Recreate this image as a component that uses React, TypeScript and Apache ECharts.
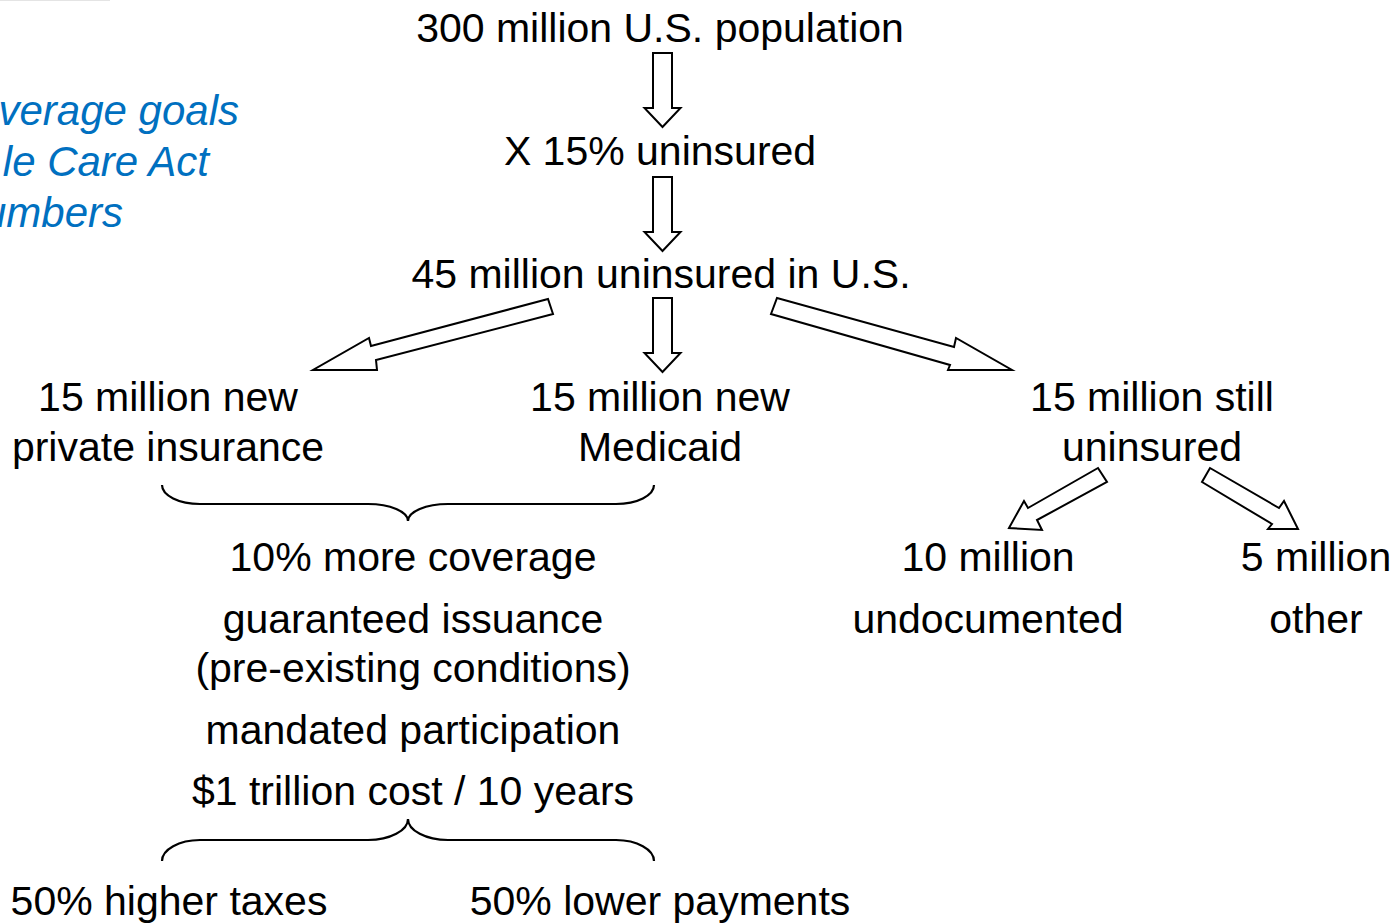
import React, { useEffect, useRef } from "react";
import * as echarts from "echarts";

// ---- content ----
const titleFragments = ["verage goals", "le Care Act", "umbers"];
const mainLabels = ["300 million U.S. population", "X 15% uninsured", "45 million uninsured in U.S."];
const branchLabels = [
  ["15 million new", "private insurance"],
  ["15 million new", "Medicaid"],
  ["15 million still", "uninsured"],
];
const coverageLines = [
  "10% more coverage",
  "guaranteed issuance",
  "(pre-existing conditions)",
  "mandated participation",
  "$1 trillion cost / 10 years",
];
const costSplit = ["50% higher taxes", "50% lower payments"];
const uninsuredSplit = [
  ["10 million", "undocumented"],
  ["5 million", "other"],
];

// ---- layout ----
const FONT = '"Liberation Sans", Arial, sans-serif';
const FS = 41;
const TITLE_FS = 42;
const titleRight = [239, 209, 123];
const titleY = [110, 161, 212];
const mainX = [660, 660, 661];
const mainY = [28, 151, 274];
const branchX = [168, 660, 1152];
const branchY = [397, 447];
const coverageX = 413;
const coverageY = [557, 619, 668, 730, 791];
const costX = [169, 660];
const costY = 901;
const uninsX = [988, 1316];
const uninsY = [557, 619];

function txt(t: string, x: number, y: number, opts: any = {}) {
  return {
    type: "text",
    x,
    y,
    silent: true,
    style: {
      text: t,
      fill: opts.fill || "#000",
      font: `${opts.italic ? "italic " : ""}${opts.size || FS}px ${FONT}`,
      textAlign: opts.align || "center",
      textVerticalAlign: "middle",
      align: opts.align || "center",
      verticalAlign: "middle",
    },
  };
}

function poly(points: number[][]) {
  return {
    type: "polygon",
    silent: true,
    shape: { points },
    style: { fill: "#fff", stroke: "#000", lineWidth: 2, lineJoin: "miter" },
  };
}

function downArrow(cx: number, top: number, headY: number, tip: number) {
  return poly([
    [cx - 9.5, top],
    [cx + 9.5, top],
    [cx + 9.5, headY],
    [cx + 18, headY],
    [cx, tip],
    [cx - 18, headY],
    [cx - 9.5, headY],
  ]);
}

function brace(xL: number, xR: number, xc: number, yEnd: number, yFlat: number, yCusp: number) {
  const st = { stroke: "#000", lineWidth: 2.2, fill: null as any };
  const hook = 38;
  const mid = 40;
  const dyE = yFlat - yEnd;
  const dyC = yCusp - yFlat;
  const bz = (x1: number, y1: number, cpx1: number, cpy1: number, cpx2: number, cpy2: number, x2: number, y2: number) => ({
    type: "bezierCurve",
    silent: true,
    shape: { x1, y1, cpx1, cpy1, cpx2, cpy2, x2, y2 },
    style: st,
  });
  const ln = (x1: number, y1: number, x2: number, y2: number) => ({
    type: "line",
    silent: true,
    shape: { x1, y1, x2, y2 },
    style: st,
  });
  return [
    bz(xL, yEnd, xL, yEnd + 0.55 * dyE, xL + 0.45 * hook, yFlat, xL + hook, yFlat),
    ln(xL + hook, yFlat, xc - mid, yFlat),
    bz(xc - mid, yFlat, xc - mid + 0.55 * mid, yFlat, xc, yFlat + 0.45 * dyC, xc, yCusp),
    bz(xc, yCusp, xc, yFlat + 0.45 * dyC, xc + mid - 0.55 * mid, yFlat, xc + mid, yFlat),
    ln(xc + mid, yFlat, xR - hook, yFlat),
    bz(xR - hook, yFlat, xR - 0.45 * hook, yFlat, xR, yEnd + 0.55 * dyE, xR, yEnd),
  ];
}

export default function App() {
  const ref = useRef<HTMLDivElement>(null);
  useEffect(() => {
    if (!ref.current) return;
    const chart = echarts.init(ref.current, null, { renderer: "svg" });
    const els: any[] = [];

    els.push({
      type: "line",
      silent: true,
      shape: { x1: 0, y1: 0.5, x2: 110, y2: 0.5 },
      style: { stroke: "#e4e4e4", lineWidth: 1 },
    });

    titleFragments.forEach((t, i) =>
      els.push(txt(t, titleRight[i], titleY[i], { align: "right", italic: true, fill: "#0070C0", size: TITLE_FS }))
    );
    mainLabels.forEach((t, i) => els.push(txt(t, mainX[i], mainY[i])));
    branchLabels.forEach((lines, i) => lines.forEach((t, j) => els.push(txt(t, branchX[i], branchY[j]))));
    coverageLines.forEach((t, i) => els.push(txt(t, coverageX, coverageY[i])));
    costSplit.forEach((t, i) => els.push(txt(t, costX[i], costY)));
    uninsuredSplit.forEach((lines, i) => lines.forEach((t, j) => els.push(txt(t, uninsX[i], uninsY[j]))));

    // arrows
    els.push(downArrow(662.5, 53, 108, 127));
    els.push(downArrow(662.5, 177, 232, 251));
    els.push(downArrow(662.5, 298, 353, 372));
    els.push(poly([[313, 370], [377, 370], [376, 360], [553, 314], [548, 299], [371, 346], [369, 338]]));
    els.push(poly([[777, 298], [954, 347], [956, 338], [1012, 370], [948, 370], [950, 365], [771, 314]]));
    els.push(poly([[1009, 528], [1024, 501], [1028, 508], [1098, 468], [1107, 482], [1037, 520], [1042, 530]]));
    els.push(poly([[1210, 468], [1279, 508], [1284, 501], [1298, 529], [1268, 529], [1272, 524], [1202, 482]]));

    // braces
    els.push(...brace(162, 654, 408, 485, 504, 521));
    els.push(...brace(162, 654, 408, 861, 840, 819));

    chart.setOption({
      animation: false,
      backgroundColor: "#fff",
      graphic: { elements: els },
    });
    return () => chart.dispose();
  }, []);
  return (
    <div
      ref={ref}
      style={{ position: "fixed", left: 0, top: 0, width: 1393, height: 923, background: "#fff" }}
    />
  );
}
